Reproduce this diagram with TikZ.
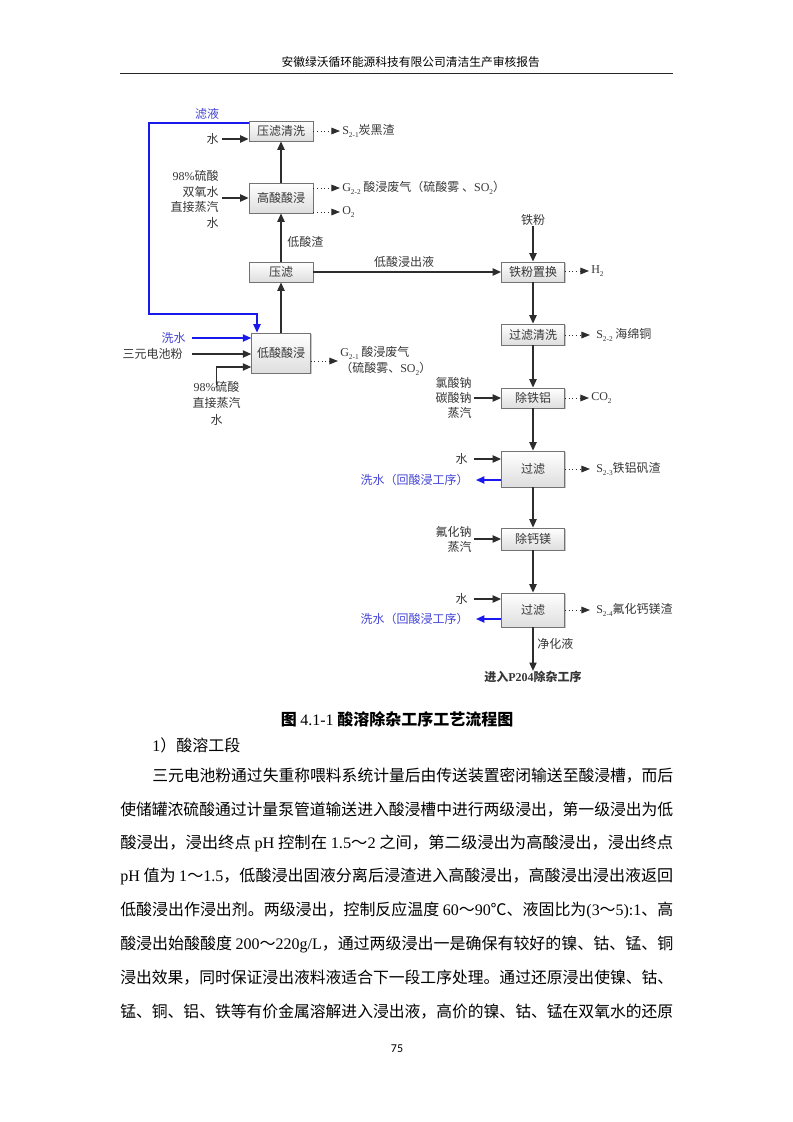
\documentclass[tikz,border=0pt]{standalone}
\usepackage{fontspec}
\usepackage{graphicx}
\setmainfont{Noto Sans CJK SC}
\newfontfamily\latfont{Liberation Serif}
\newfontfamily\pgnumfont{Carlito}
\usetikzlibrary{arrows.meta,shadows}
\definecolor{txtgray}{RGB}{55,55,55}
\definecolor{linegray}{RGB}{45,45,45}
\definecolor{boxborder}{RGB}{115,115,115}
\definecolor{flowblue}{RGB}{25,25,235}
\definecolor{textblue}{RGB}{70,70,215}
\newcommand\tm[1]{{\latfont #1}}
\newcommand\sbs[1]{\raisebox{-0.45ex}{\fontsize{5.5pt}{6pt}\selectfont\latfont #1}}
\tikzset{
  procbox/.style={draw=boxborder, line width=0.6pt, top color=white, bottom color=black!13,
    inner sep=0pt, text=txtgray, font=\fontsize{9pt}{11pt}\selectfont,
    drop shadow={shadow xshift=0.9pt, shadow yshift=-0.9pt, opacity=0.35, fill=black!60}},
  lbl/.style={inner sep=0pt, text=txtgray, font=\fontsize{9pt}{11.8pt}\selectfont},
  bluelbl/.style={lbl, text=textblue},
  arr/.style={draw=linegray, line width=1.1pt, -{Triangle[length=6.3pt,width=5.4pt]}},
  bluearr/.style={draw=flowblue, line width=1.1pt, -{Triangle[length=6.3pt,width=5.4pt]}},
  dotarr/.style={draw=linegray, line width=0.75pt, dotted, -{Triangle[length=6.5pt,width=5pt]}},
  bodyline/.style={anchor=west, inner sep=0pt, font=\fontsize{12pt}{14pt}\selectfont},
}
\begin{document}
\begin{tikzpicture}[x=0.75pt,y=-0.75pt]
\useasboundingbox (0,0) rectangle (793,1122);
\fill[white] (0,0) rectangle (793,1122);
% ---------- header ----------
\node[anchor=east, inner sep=0pt, font=\fontsize{8.8pt}{11pt}\selectfont] (hdr) at (540,62) {安徽绿沃循环能源科技有限公司清洁生产审核报告};
\coordinate (hl) at (120,73.5);
\coordinate (hr) at (673,73.5);
\draw[line width=1pt, black!85] (hl) -- (hr);
% ---------- boxes ----------
\node[procbox, minimum width=48pt, minimum height=15pt] (yc) at (281,131) {压滤清洗};
\node[procbox, minimum width=48pt, minimum height=22.5pt] (gs) at (281,198) {高酸酸浸};
\node[procbox, minimum width=48pt, minimum height=15pt] (yl) at (281,272) {压滤};
\node[procbox, minimum width=44pt, minimum height=30pt] (ds) at (281,353) {低酸酸浸};
\node[procbox, minimum width=47.25pt, minimum height=15pt] (tf) at (533,272) {铁粉置换};
\node[procbox, minimum width=47.25pt, minimum height=15.75pt] (gq) at (533,334.5) {过滤清洗};
\node[procbox, minimum width=47.25pt, minimum height=15pt] (ctl) at (533,398) {除铁铝};
\node[procbox, minimum width=47.25pt, minimum height=27pt] (gl1) at (533,469) {过滤};
\node[procbox, minimum width=47.25pt, minimum height=16.5pt] (cgm) at (533,539) {除钙镁};
\node[procbox, minimum width=47.25pt, minimum height=25.5pt] (gl2) at (533,610) {过滤};
% ---------- left column flow ----------
\draw[arr] (ds) -- (yl);
\draw[arr] (yl) -- (gs);
\draw[arr] (gs) -- (yc);
\node[lbl, anchor=west] (dsz) at (287,242) {低酸渣};
% ---------- to right column ----------
\draw[arr] (yl) -- (tf);
\node[lbl] (dsjc) at (404,262) {低酸浸出液};
\node[lbl] (tfp) at (533,220) {铁粉};
\draw[arr] (tfp) -- (tf);
\draw[arr] (tf) -- (gq);
\draw[arr] (gq) -- (ctl);
\draw[arr] (ctl) -- (gl1);
\draw[arr] (gl1) -- (cgm);
\draw[arr] (cgm) -- (gl2);
\node[lbl, font=\fontsize{9pt}{11pt}\selectfont\bfseries] (p204) at (533,677) {进入\tm{P204}除杂工序};
\draw[arr] (gl2) -- (p204);
\node[lbl, anchor=west] (jhy) at (537,644) {净化液};
% ---------- blue loop ----------
\node[bluelbl] (lvye) at (207,114) {滤液};
\coordinate (lpA) at (149,123);
\coordinate (lpB) at (149,314);
\coordinate (lpC) at (257,314);
\draw[bluearr] (yc.west |- lpA) -- (lpA) -- (lpB) -- (lpC) -- (lpC |- ds.north);
% ---------- inputs left ----------
\node[lbl, anchor=east] (w1) at (219,139) {水};
\coordinate (w1A) at (222,139);
\draw[arr] (w1A) -- (w1A -| yc.west);
\node[lbl, anchor=east, align=right] (gsin) at (219,199.5) {\tm{98\%}硫酸\\双氧水\\直接蒸汽\\水};
\coordinate (gsinA) at (222,198);
\draw[arr] (gsinA) -- (gs.west);
\node[bluelbl, anchor=east] (xs0) at (186,338) {洗水};
\coordinate (xs0A) at (192,338);
\draw[bluearr] (xs0A) -- (xs0A -| ds.west);
\node[lbl, anchor=east] (sydc) at (183,354) {三元电池粉};
\coordinate (sydcA) at (192,354);
\draw[arr] (sydcA) -- (sydcA -| ds.west);
\node[lbl, anchor=north, align=center, font=\fontsize{9pt}{12.3pt}\selectfont] (dsin) at (216.5,381) {\tm{98\%}硫酸\\直接蒸汽\\水};
\coordinate (dsinT) at ([yshift=-3pt]dsin.north);
\coordinate (dsinC) at (216.5,367);
\draw[arr] (dsinT) -- (dsinC) -- (dsinC -| ds.west);
% ---------- outputs left ----------
\node[lbl, anchor=west] (s21) at (342,131) {\tm{S\sbs{2-1}}炭黑渣};
\draw[dotarr, shorten >=1.5pt] (yc.east) -- (s21.west);
\node[lbl, anchor=west] (g22) at (342,188) {\tm{G\sbs{2-2}} 酸浸废气（硫酸雾 、\tm{SO\sbs{2}}）};
\draw[dotarr, shorten >=1.5pt] (gs.east |- g22.west) -- (g22.west);
\node[lbl, anchor=west] (o2) at (342,212) {\tm{O\sbs{2}}};
\draw[dotarr, shorten >=1.5pt] (gs.east |- o2.west) -- (o2.west);
\node[lbl, anchor=west, align=left, font=\fontsize{9pt}{12pt}\selectfont] (g21) at (340,361) {\tm{G\sbs{2-1}} 酸浸废气\\（硫酸雾、\tm{SO\sbs{2}}）};
\draw[dotarr, shorten >=1.5pt] (ds.east |- g21.west) -- (g21.west);
% ---------- inputs right ----------
\node[lbl, anchor=east, align=right, font=\fontsize{9pt}{11.3pt}\selectfont] (ctlin) at (472,398) {氯酸钠\\碳酸钠\\蒸汽};
\coordinate (ctlinA) at (474,398);
\draw[arr] (ctlinA) -- (ctl.west);
\node[lbl, anchor=east] (w2) at (468,459) {水};
\coordinate (w2A) at (474,459);
\draw[arr] (w2A) -- (w2A -| gl1.west);
\node[bluelbl, anchor=east] (xs1) at (469,480) {洗水（回酸浸工序）};
\coordinate (xs1A) at (476,480);
\draw[bluearr] (xs1A -| gl1.west) -- (xs1A);
\node[lbl, anchor=east, align=right, font=\fontsize{9pt}{11.3pt}\selectfont] (cgmin) at (472,539.5) {氟化钠\\蒸汽};
\coordinate (cgminA) at (474,539);
\draw[arr] (cgminA) -- (cgm.west);
\node[lbl, anchor=east] (w3) at (468,599) {水};
\coordinate (w3A) at (474,599);
\draw[arr] (w3A) -- (w3A -| gl2.west);
\node[bluelbl, anchor=east] (xs2) at (469,619) {洗水（回酸浸工序）};
\coordinate (xs2A) at (476,619);
\draw[bluearr] (xs2A -| gl2.west) -- (xs2A);
% ---------- outputs right ----------
\node[lbl, anchor=west] (h2) at (591,271) {\tm{H\sbs{2}}};
\draw[dotarr, shorten >=1.5pt] (tf.east |- h2.west) -- (h2.west);
\node[lbl, anchor=west] (s22) at (596,335) {\tm{S\sbs{2-2}} 海绵铜};
\draw[dotarr, shorten >=4.5pt] (gq.east |- s22.west) -- (s22.west);
\node[lbl, anchor=west] (co2) at (591,398) {\tm{CO\sbs{2}}};
\draw[dotarr, shorten >=1.5pt] (ctl.east |- co2.west) -- (co2.west);
\node[lbl, anchor=west] (s23) at (596,469) {\tm{S\sbs{2-3}}铁铝矾渣};
\draw[dotarr, shorten >=4.5pt] (gl1.east |- s23.west) -- (s23.west);
\node[lbl, anchor=west] (s24) at (596,610) {\tm{S\sbs{2-4}}氟化钙镁渣};
\draw[dotarr, shorten >=4.5pt] (gl2.east |- s24.west) -- (s24.west);
% ---------- caption and body ----------
\node[inner sep=0pt, font=\fontsize{12pt}{14pt}\selectfont] (cap) at (397,719) {{\bfseries 图} \tm{4.1-1} {\bfseries 酸溶除杂工序工艺流程图}};
\node[bodyline] (sec) at (152,745) {\tm{1}）酸溶工段};
\node[bodyline] (t1) at (152,776) {\resizebox{390.75pt}{\height}{三元电池粉通过失重称喂料系统计量后由传送装置密闭输送至酸浸槽，而后}};
\node[bodyline] (t2) at (120,809.6) {\resizebox{414.75pt}{\height}{使储罐浓硫酸通过计量泵管道输送进入酸浸槽中进行两级浸出，第一级浸出为低}};
\node[bodyline] (t3) at (120,843.2) {\resizebox{414.75pt}{\height}{酸浸出，浸出终点 \tm{pH} 控制在 \tm{1.5}～\tm{2} 之间，第二级浸出为高酸浸出，浸出终点}};
\node[bodyline] (t4) at (120,876.8) {\resizebox{414.75pt}{\height}{\tm{pH} 值为 \tm{1}～\tm{1.5}，低酸浸出固液分离后浸渣进入高酸浸出，高酸浸出浸出液返回}};
\node[bodyline] (t5) at (120,910.4) {\resizebox{414.75pt}{\height}{低酸浸出作浸出剂。两级浸出，控制反应温度 \tm{60}～\tm{90}℃、液固比为\tm{(3}～\tm{5):1}、高}};
\node[bodyline] (t6) at (120,944) {\resizebox{414.75pt}{\height}{酸浸出始酸酸度 \tm{200}～\tm{220g/L}，通过两级浸出一是确保有较好的镍、钴、锰、铜}};
\node[bodyline] (t7) at (120,977.6) {\resizebox{414.75pt}{\height}{浸出效果，同时保证浸出液料液适合下一段工序处理。通过还原浸出使镍、钴、}};
\node[bodyline] (t8) at (120,1011.2) {\resizebox{414.75pt}{\height}{锰、铜、铝、铁等有价金属溶解进入浸出液，高价的镍、钴、锰在双氧水的还原}};
\node[inner sep=0pt, font=\pgnumfont\fontsize{9pt}{10pt}\selectfont] (pg) at (397,1049) {75};
\end{tikzpicture}
\end{document}
